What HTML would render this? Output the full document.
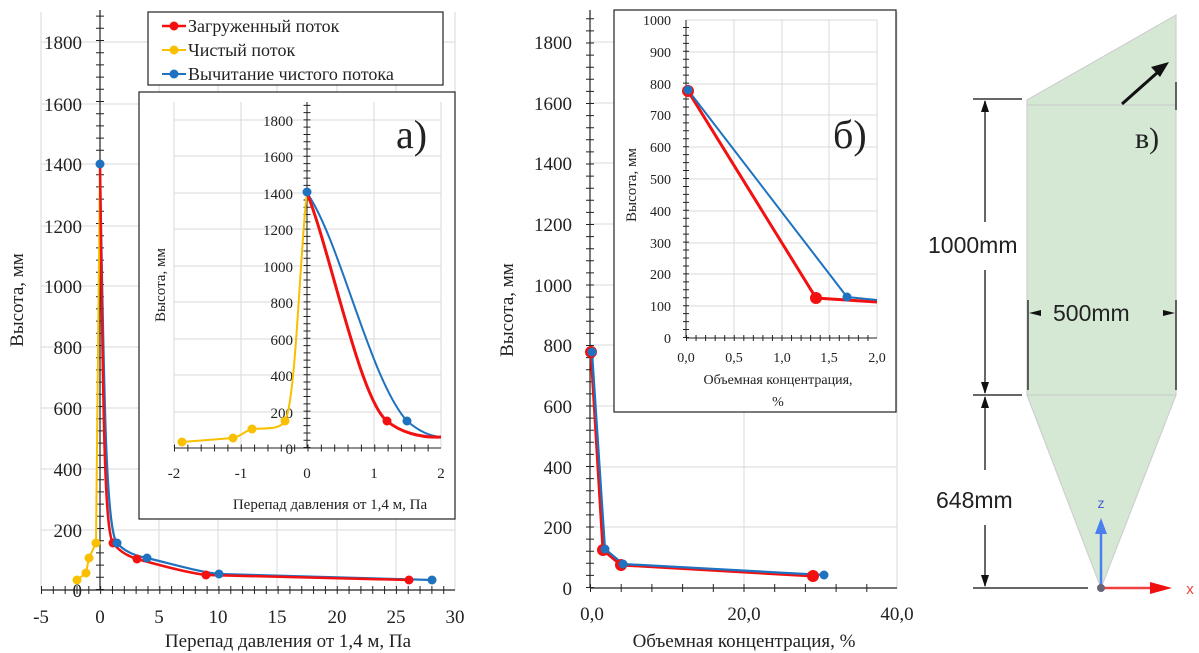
<!DOCTYPE html>
<html><head><meta charset="utf-8"><style>
body{margin:0;background:#fff}
svg{display:block}
text{font-family:"Liberation Serif",serif;fill:#222}
.s{font-family:"Liberation Sans",sans-serif}
</style></head><body>
<svg width="1199" height="653" viewBox="0 0 1199 653" xmlns="http://www.w3.org/2000/svg">
<!-- LEFT MAIN -->
<g stroke="#dadada" stroke-width="1">
<line x1="41" y1="12" x2="41" y2="590"/><line x1="159" y1="12" x2="159" y2="590"/><line x1="218" y1="12" x2="218" y2="590"/><line x1="277" y1="12" x2="277" y2="590"/><line x1="337" y1="12" x2="337" y2="590"/><line x1="396" y1="12" x2="396" y2="590"/><line x1="455" y1="12" x2="455" y2="590"/>
<line x1="41" y1="42" x2="455" y2="42"/><line x1="41" y1="104" x2="455" y2="104"/><line x1="41" y1="164" x2="455" y2="164"/><line x1="41" y1="226" x2="455" y2="226"/><line x1="41" y1="286" x2="455" y2="286"/><line x1="41" y1="347" x2="455" y2="347"/><line x1="41" y1="408" x2="455" y2="408"/><line x1="41" y1="469" x2="455" y2="469"/><line x1="41" y1="530" x2="455" y2="530"/>
</g>
<line x1="100" y1="10" x2="100" y2="590" stroke="#222" stroke-width="1.2"/>
<line x1="41" y1="590" x2="455" y2="590" stroke="#222" stroke-width="1.2"/>
<line x1="100" y1="590" x2="100" y2="12" stroke="#222" stroke-width="8" stroke-dasharray="1 11.2"/>
<line x1="41" y1="590" x2="455" y2="590" stroke="#222" stroke-width="8" stroke-dasharray="1 10.83"/>
<g font-size="19" text-anchor="end">
<text x="82" y="49">1800</text><text x="82" y="111">1600</text><text x="82" y="171">1400</text><text x="82" y="233">1200</text><text x="82" y="293">1000</text><text x="82" y="354">800</text><text x="82" y="415">600</text><text x="82" y="476">400</text><text x="82" y="537">200</text><text x="82" y="597">0</text>
</g>
<g font-size="19" text-anchor="middle">
<text x="41" y="623">-5</text><text x="100" y="623">0</text><text x="159" y="623">5</text><text x="218" y="623">10</text><text x="277" y="623">15</text><text x="337" y="623">20</text><text x="396" y="623">25</text><text x="455" y="623">30</text>
<text x="288" y="647">Перепад давления от 1,4 м, Па</text>
</g>
<text transform="translate(23,300) rotate(-90)" font-size="19" text-anchor="middle">Высота, мм</text>
<path d="M100,164 L96,543 L89,558 L86,573 L77,580" fill="none" stroke="#f8c000" stroke-width="2"/>
<path d="M100,164 C104,400 106,530 117,543 C125,552 135,556 147,558 C180,566 200,572 219,574 L432,580" fill="none" stroke="#1f72c0" stroke-width="2.2"/>
<path d="M100,164 C103,400 104,530 113,543 C120,552 128,556 137,559 C170,568 190,573 206,575 L409,580" fill="none" stroke="#f21010" stroke-width="2.5"/>
<g fill="#f8c000"><circle cx="96" cy="543" r="4.5"/><circle cx="89" cy="558" r="4.5"/><circle cx="86" cy="573" r="4.5"/><circle cx="77" cy="580" r="4.5"/></g>
<g fill="#f21010"><circle cx="113" cy="543" r="4.5"/><circle cx="137" cy="559" r="4.5"/><circle cx="206" cy="575" r="4.5"/><circle cx="409" cy="580" r="4.5"/></g>
<g fill="#1f72c0"><circle cx="100" cy="164" r="4.5"/><circle cx="117" cy="543" r="4.5"/><circle cx="147" cy="558" r="4.5"/><circle cx="219" cy="574" r="4.5"/><circle cx="432" cy="580" r="4.5"/></g>
<!-- legend -->
<rect x="148" y="12" width="295" height="73" fill="#fff" stroke="#222" stroke-width="1.2"/>
<line x1="162" y1="26" x2="186" y2="26" stroke="#f21010" stroke-width="2.5"/><circle cx="174" cy="26" r="4.5" fill="#f21010"/>
<line x1="162" y1="50" x2="186" y2="50" stroke="#f8c000" stroke-width="2"/><circle cx="174" cy="50" r="4.5" fill="#f8c000"/>
<line x1="162" y1="74" x2="186" y2="74" stroke="#1f72c0" stroke-width="2"/><circle cx="174" cy="74" r="4.5" fill="#1f72c0"/>
<g font-size="18"><text x="188" y="32">Загруженный поток</text><text x="188" y="56">Чистый поток</text><text x="188" y="80">Вычитание чистого потока</text></g>
<!-- INSET A -->
<rect x="139" y="92" width="316" height="427" fill="#fff" stroke="#222" stroke-width="1.2"/>
<g stroke="#dadada">
<line x1="174" y1="102" x2="174" y2="448"/><line x1="241" y1="102" x2="241" y2="448"/><line x1="374" y1="102" x2="374" y2="448"/><line x1="441" y1="102" x2="441" y2="448"/>
<line x1="174" y1="120" x2="441" y2="120"/><line x1="174" y1="156" x2="441" y2="156"/><line x1="174" y1="193" x2="441" y2="193"/><line x1="174" y1="229" x2="441" y2="229"/><line x1="174" y1="266" x2="441" y2="266"/><line x1="174" y1="302" x2="441" y2="302"/><line x1="174" y1="339" x2="441" y2="339"/><line x1="174" y1="375" x2="441" y2="375"/><line x1="174" y1="412" x2="441" y2="412"/>
</g>
<line x1="307" y1="102" x2="307" y2="448" stroke="#222"/>
<line x1="174" y1="448" x2="441" y2="448" stroke="#222"/>
<line x1="307" y1="448" x2="307" y2="104" stroke="#222" stroke-width="7" stroke-dasharray="1 6.28"/>
<line x1="174" y1="448" x2="441" y2="448" stroke="#222" stroke-width="7" stroke-dasharray="1 12.35"/>
<g font-size="15" text-anchor="end">
<text x="293" y="126">1800</text><text x="293" y="162">1600</text><text x="293" y="199">1400</text><text x="293" y="235">1200</text><text x="293" y="272">1000</text><text x="293" y="308">800</text><text x="293" y="345">600</text><text x="293" y="381">400</text><text x="293" y="418">200</text><text x="293" y="454">0</text>
</g>
<g font-size="15" text-anchor="middle">
<text x="174" y="478">-2</text><text x="241" y="478">-1</text><text x="307" y="478">0</text><text x="374" y="478">1</text><text x="441" y="478">2</text>
<text x="330" y="509">Перепад давления от 1,4 м, Па</text>
</g>
<text transform="translate(165,285) rotate(-90)" font-size="15" text-anchor="middle">Высота, мм</text>
<text x="396" y="148" font-size="40">а)</text>
<path d="M182,442 L233,438 C242,436 246,430 252,429 C265,428 280,430 285,421 C296,400 300,250 307,192" fill="none" stroke="#f8c000" stroke-width="2"/>
<path d="M307,193 C340,240 370,380 407,421 C420,432 430,436 441,437" fill="none" stroke="#1f72c0" stroke-width="2"/>
<path d="M307,193 C330,250 360,400 387,421 C400,432 420,438 441,437" fill="none" stroke="#f21010" stroke-width="3"/>
<g fill="#f8c000"><circle cx="182" cy="442" r="4.5"/><circle cx="233" cy="438" r="4.5"/><circle cx="252" cy="429" r="4.5"/><circle cx="285" cy="421" r="4.5"/></g>
<circle cx="387" cy="421" r="4.5" fill="#f21010"/><circle cx="407" cy="421" r="4.5" fill="#1f72c0"/><circle cx="307" cy="192" r="4.5" fill="#1f72c0"/>
<!-- MIDDLE MAIN -->
<g stroke="#dadada">
<line x1="744" y1="12" x2="744" y2="588"/><line x1="897" y1="12" x2="897" y2="588"/>
<line x1="590" y1="42" x2="897" y2="42"/><line x1="590" y1="103" x2="897" y2="103"/><line x1="590" y1="163" x2="897" y2="163"/><line x1="590" y1="224" x2="897" y2="224"/><line x1="590" y1="285" x2="897" y2="285"/><line x1="590" y1="345" x2="897" y2="345"/><line x1="590" y1="406" x2="897" y2="406"/><line x1="590" y1="467" x2="897" y2="467"/><line x1="590" y1="527" x2="897" y2="527"/>
</g>
<line x1="590" y1="10" x2="590" y2="588" stroke="#222" stroke-width="1.2"/>
<line x1="590" y1="588" x2="897" y2="588" stroke="#222" stroke-width="1.2"/>
<line x1="590" y1="588" x2="590" y2="12" stroke="#222" stroke-width="8" stroke-dasharray="1 11.1"/>
<line x1="590" y1="588" x2="897" y2="588" stroke="#222" stroke-width="8" stroke-dasharray="1 29.7"/>
<g font-size="19" text-anchor="end">
<text x="572" y="49">1800</text><text x="572" y="110">1600</text><text x="572" y="170">1400</text><text x="572" y="231">1200</text><text x="572" y="292">1000</text><text x="572" y="352">800</text><text x="572" y="413">600</text><text x="572" y="474">400</text><text x="572" y="534">200</text><text x="572" y="595">0</text>
</g>
<g font-size="19" text-anchor="middle">
<text x="592" y="620">0,0</text><text x="744" y="620">20,0</text><text x="897" y="620">40,0</text>
<text x="744" y="647">Объемная концентрация, %</text>
</g>
<text transform="translate(513,310) rotate(-90)" font-size="19" text-anchor="middle">Высота, мм</text>
<path d="M591,352 L603,550 L621,565 L813,576" fill="none" stroke="#f21010" stroke-width="3"/>
<path d="M592,352 L605,549 L623,564 L824,575" fill="none" stroke="#1f72c0" stroke-width="2.2"/>
<g fill="#f21010"><circle cx="591" cy="352" r="6"/><circle cx="603" cy="550" r="6"/><circle cx="621" cy="565" r="6"/><circle cx="813" cy="576" r="6"/></g>
<g fill="#1f72c0"><circle cx="592" cy="352" r="4.5"/><circle cx="605" cy="549" r="4.5"/><circle cx="623" cy="564" r="4.5"/><circle cx="824" cy="575" r="4.5"/></g>
<!-- INSET B -->
<rect x="614" y="10" width="282" height="402" fill="#fff" stroke="#222" stroke-width="1.2"/>
<g stroke="#dadada">
<line x1="734" y1="20" x2="734" y2="338"/><line x1="782" y1="20" x2="782" y2="338"/><line x1="829" y1="20" x2="829" y2="338"/><line x1="877" y1="20" x2="877" y2="338"/>
<line x1="686" y1="20" x2="877" y2="20"/><line x1="686" y1="52" x2="877" y2="52"/><line x1="686" y1="84" x2="877" y2="84"/><line x1="686" y1="115" x2="877" y2="115"/><line x1="686" y1="147" x2="877" y2="147"/><line x1="686" y1="179" x2="877" y2="179"/><line x1="686" y1="211" x2="877" y2="211"/><line x1="686" y1="243" x2="877" y2="243"/><line x1="686" y1="274" x2="877" y2="274"/><line x1="686" y1="306" x2="877" y2="306"/>
</g>
<line x1="686" y1="20" x2="686" y2="338" stroke="#222"/>
<line x1="686" y1="338" x2="877" y2="338" stroke="#222"/>
<line x1="686" y1="338" x2="686" y2="20" stroke="#222" stroke-width="6" stroke-dasharray="1 6.95"/>
<line x1="686" y1="338" x2="877" y2="338" stroke="#222" stroke-width="6" stroke-dasharray="1 8.55"/>
<g font-size="14" text-anchor="end">
<text x="671" y="25">1000</text><text x="671" y="57">900</text><text x="671" y="89">800</text><text x="671" y="120">700</text><text x="671" y="152">600</text><text x="671" y="184">500</text><text x="671" y="216">400</text><text x="671" y="248">300</text><text x="671" y="279">200</text><text x="671" y="311">100</text><text x="671" y="343">0</text>
</g>
<g font-size="14" text-anchor="middle">
<text x="686" y="362">0,0</text><text x="734" y="362">0,5</text><text x="782" y="362">1,0</text><text x="829" y="362">1,5</text><text x="877" y="362">2,0</text>
<text x="778" y="384">Объемная концентрация,</text><text x="778" y="406">%</text>
</g>
<text transform="translate(636,185) rotate(-90)" font-size="15" text-anchor="middle">Высота, мм</text>
<text x="833" y="148" font-size="40">б)</text>
<path d="M688,91 L816,298 L877,302" fill="none" stroke="#f21010" stroke-width="3"/>
<path d="M688,90 L847,297 L877,300" fill="none" stroke="#1f72c0" stroke-width="2"/>
<circle cx="688" cy="91" r="6" fill="#f21010"/><circle cx="816" cy="298" r="6" fill="#f21010"/>
<circle cx="688" cy="90" r="4.5" fill="#1f72c0"/><circle cx="847" cy="297" r="4.5" fill="#1f72c0"/>
<!-- RIGHT DIAGRAM -->
<path d="M1027,100 L1176,15 L1176,395 L1101,588 L1027,395 Z" fill="#d5e8d4" stroke="#cfcfcf" stroke-width="1.2"/>
<line x1="1027" y1="105" x2="1176" y2="105" stroke="#c8c8c8"/>
<line x1="1027" y1="395" x2="1176" y2="395" stroke="#c8c8c8"/>
<g stroke="#333" stroke-width="1.5">
<line x1="973" y1="99" x2="1022" y2="99"/><line x1="973" y1="395" x2="1022" y2="395"/><line x1="973" y1="588" x2="1088" y2="588"/>
<line x1="985" y1="101" x2="985" y2="222"/>
<line x1="985" y1="270" x2="985" y2="393"/>
<line x1="985" y1="397" x2="985" y2="470"/>
<line x1="985" y1="525" x2="985" y2="586"/>
<line x1="1028" y1="300" x2="1028" y2="390"/><line x1="1176" y1="300" x2="1176" y2="390"/>
<line x1="1176" y1="82" x2="1176" y2="110"/>
</g>
<g fill="#111">
<path d="M985,100 l-4,12 h8z"/><path d="M985,394 l-4,-12 h8z"/><path d="M985,396 l-4,12 h8z"/><path d="M985,587 l-4,-12 h8z"/>
<path d="M1029,313 l12,-3 v6z"/><path d="M1175,313 l-12,-3 v6z"/>
</g>
<line x1="1122" y1="104" x2="1158" y2="72" stroke="#111" stroke-width="3"/>
<path d="M1169,62 l-18,5 l9,10z" fill="#111"/>
<g class="s" font-size="23" fill="#222">
<text x="928" y="253" class="s">1000mm</text>
<text x="1053" y="321" class="s">500mm</text>
<text x="936" y="508" class="s">648mm</text>
</g>
<text x="1135" y="148" font-size="30">в)</text>
<line x1="1101" y1="586" x2="1101" y2="532" stroke="#4a7ff0" stroke-width="2.5"/>
<path d="M1101,518 l-6,16 h12z" fill="#4a7ff0"/>
<text x="1101" y="508" class="s" font-size="14" text-anchor="middle" style="fill:#4a5fd0">z</text>
<line x1="1101" y1="588" x2="1150" y2="588" stroke="#f04040" stroke-width="2.5"/>
<path d="M1172,588 l-22,-6 v12z" fill="#f01010"/>
<text x="1190" y="594" class="s" font-size="15" text-anchor="middle" style="fill:#f04040">x</text>
<circle cx="1101" cy="588" r="4" fill="#667"/>
</svg>
</body></html>
